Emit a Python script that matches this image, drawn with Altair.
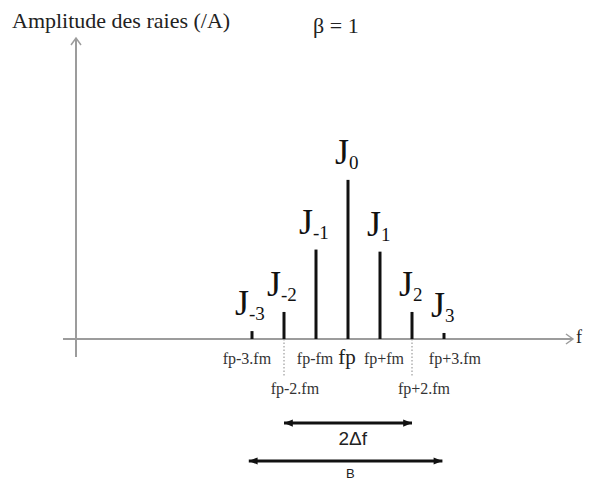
import altair as alt
import pandas as pd

# ---- data ----
orders = [-3, -2, -1, 0, 1, 2, 3]                 # line index n  (f = fp + n.fm)
amplitudes = [0.038, 0.13, 0.43, 0.765, 0.42, 0.13, 0.029]
subscripts = ["-3", "-2", "-1", "0", "1", "2", "3"]

row1_labels = ["fp-3.fm", "fp-fm", "fp+fm", "fp+3.fm"]
row1_pos = [-3.16, -1.03, 1.125, 3.34]
row2_labels = ["fp-2.fm", "fp+2.fm"]
row2_pos = [-1.66, 2.375]
center_label = ["fp"]
center_pos = [-0.03]

dotted_pos = [-2, 2]
arrow_names = ["2Δf", "B"]
arrow_start = [-2.0, -3.1]
arrow_end = [2.0, 2.95]
arrow_level = [-0.404, -0.5865]
arrow_text_level = [-0.51, -0.668]

# ---- layout helpers ----
X_DOMAIN = [-10.625, 7.375]
Y_DOMAIN = [-0.6875, 1.5913]
W, H = 576, 474
AXIS_GREY = "#9c9c9c"
SERIF = "Liberation Serif"
SANS = "Liberation Sans"


def X(field):
    return alt.X(f"{field}:Q", scale=alt.Scale(domain=X_DOMAIN, nice=False, zero=False), axis=None)


def Y(field):
    return alt.Y(f"{field}:Q", scale=alt.Scale(domain=Y_DOMAIN, nice=False, zero=False), axis=None)


lines = pd.DataFrame({"n": orders, "amp": amplitudes, "sub": subscripts})
lines["zero"] = 0.0
lines["ly"] = lines["amp"] + 0.077

# axes
yaxis = alt.Chart(pd.DataFrame({"x": [-8.5], "y": [-0.0865], "y2": [1.447]})).mark_rule(
    color=AXIS_GREY, strokeWidth=2).encode(x=X("x"), y=Y("y"), y2="y2:Q")
xaxis = alt.Chart(pd.DataFrame({"x": [-8.906], "x2": [7.03], "y": [0.0]})).mark_rule(
    color=AXIS_GREY, strokeWidth=2).encode(x=X("x"), x2="x2:Q", y=Y("y"))
ytip = alt.Chart(pd.DataFrame({"x": [-8.5], "y": [1.447]})).mark_point(
    shape="M-1,1.4L0,0L1,1.4", filled=False, size=100, color=AXIS_GREY, strokeWidth=1.5, opacity=1
).encode(x=X("x"), y=Y("y"))
xtip = alt.Chart(pd.DataFrame({"x": [7.03], "y": [0.0]})).mark_point(
    shape="M-1.4,-1L0,0L-1.4,1", filled=False, size=100, color=AXIS_GREY, strokeWidth=1.5, opacity=1
).encode(x=X("x"), y=Y("y"))
f_label = alt.Chart(pd.DataFrame({"x": [7.125], "y": [-0.019], "t": ["f"]})).mark_text(
    align="left", baseline="alphabetic", font=SERIF, fontSize=18, color="#222"
).encode(x=X("x"), y=Y("y"), text="t:N")

# spectral lines
spec = alt.Chart(lines).mark_rule(color="#111", strokeWidth=3).encode(
    x=X("n"), y=Y("zero"), y2="amp:Q")

base_lab = alt.Chart(lines)
j_two = base_lab.transform_filter("length(datum.sub) == 2").mark_text(
    text="J", align="right", baseline="alphabetic", font=SERIF, fontSize=36, dx=-3, color="#111"
).encode(x=X("n"), y=Y("ly"))
s_two = base_lab.transform_filter("length(datum.sub) == 2").mark_text(
    align="left", baseline="alphabetic", font=SERIF, fontSize=19, dx=-3, dy=5, color="#111"
).encode(x=X("n"), y=Y("ly"), text="sub:N")
j_one = base_lab.transform_filter("length(datum.sub) == 1").mark_text(
    text="J", align="right", baseline="alphabetic", font=SERIF, fontSize=36, dx=1, color="#111"
).encode(x=X("n"), y=Y("ly"))
s_one = base_lab.transform_filter("length(datum.sub) == 1").mark_text(
    align="left", baseline="alphabetic", font=SERIF, fontSize=19, dx=1, dy=5, color="#111"
).encode(x=X("n"), y=Y("ly"), text="sub:N")

# frequency labels
r1 = alt.Chart(pd.DataFrame({"x": row1_pos, "t": row1_labels, "y": -0.1226})).mark_text(
    align="center", baseline="alphabetic", font=SERIF, fontSize=16, color="#333"
).encode(x=X("x"), y=Y("y"), text="t:N")
r2 = alt.Chart(pd.DataFrame({"x": row2_pos, "t": row2_labels, "y": -0.264})).mark_text(
    align="center", baseline="alphabetic", font=SERIF, fontSize=16, color="#333"
).encode(x=X("x"), y=Y("y"), text="t:N")
rc = alt.Chart(pd.DataFrame({"x": center_pos, "t": center_label, "y": -0.1226})).mark_text(
    align="center", baseline="alphabetic", font=SERIF, fontSize=21, color="#222"
).encode(x=X("x"), y=Y("y"), text="t:N")

dotted = alt.Chart(pd.DataFrame({"x": dotted_pos, "y": 0.0, "y2": -0.183})).mark_rule(
    color="#888", strokeWidth=1, strokeDash=[1.5, 2]).encode(x=X("x"), y=Y("y"), y2="y2:Q")

arrows = pd.DataFrame({"name": arrow_names, "x": arrow_start, "x2": arrow_end,
                       "y": arrow_level, "ty": arrow_text_level})
arrows["xm"] = (arrows["x"] + arrows["x2"]) / 2 + 0.15
arrow_lines = alt.Chart(arrows).mark_rule(color="#111", strokeWidth=3).encode(
    x=X("x"), x2="x2:Q", y=Y("y"))
head_r = alt.Chart(arrows).mark_point(
    shape="M0,0L-2.2,-0.9L-2.2,0.9Z", filled=True, size=64, color="#111", opacity=1
).encode(x=X("x2"), y=Y("y"))
head_l = alt.Chart(arrows).mark_point(
    shape="M0,0L2.2,-0.9L2.2,0.9Z", filled=True, size=64, color="#111", opacity=1
).encode(x=X("x"), y=Y("y"))
t_df = alt.Chart(arrows).transform_filter("datum.name == '2Δf'").mark_text(
    align="center", baseline="alphabetic", font=SANS, fontSize=19, color="#222"
).encode(x=X("xm"), y=Y("ty"), text="name:N")
t_b = alt.Chart(arrows).transform_filter("datum.name == 'B'").mark_text(
    align="center", baseline="alphabetic", font=SANS, fontSize=13, color="#222"
).encode(x=X("xm"), y=Y("ty"), text="name:N")

title = alt.Chart(pd.DataFrame({"x": [-10.5], "y": [1.495], "t": ["Amplitude des raies (/A)"]})).mark_text(
    align="left", baseline="alphabetic", font=SERIF, fontSize=22, color="#222"
).encode(x=X("x"), y=Y("y"), text="t:N")
beta = alt.Chart(pd.DataFrame({"x": [-1.09], "y": [1.471], "t": ["β = 1"]})).mark_text(
    align="left", baseline="alphabetic", font=SERIF, fontSize=22, color="#222"
).encode(x=X("x"), y=Y("y"), text="t:N")

chart = alt.layer(
    yaxis, xaxis, ytip, xtip, f_label, dotted, spec, j_two, s_two, j_one, s_one,
    r1, r2, rc, arrow_lines, head_r, head_l, t_df, t_b, title, beta
).properties(
    width=W, height=H, padding=0, autosize=alt.AutoSizeParams(type="none")
).configure_view(stroke="transparent")

chart.save("out.html", embed_options={"renderer": "svg", "actions": False})
